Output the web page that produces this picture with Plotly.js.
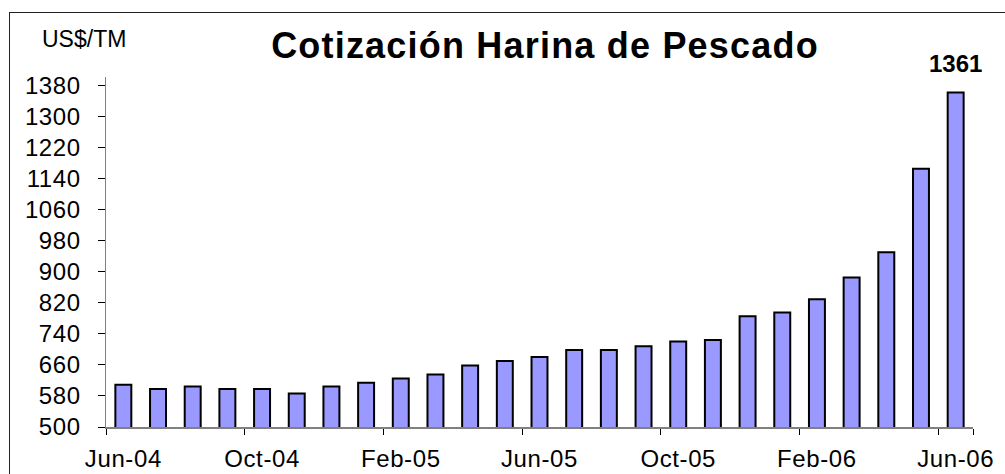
<!DOCTYPE html>
<html>
<head>
<meta charset="utf-8">
<script src="https://cdn.plot.ly/plotly-3.0.1.min.js"></script>
<style>
  html, body { margin: 0; padding: 0; background: #fff; overflow: hidden; }
  #wrap { position: relative; width: 1005px; height: 474px; }
  #chart { position: absolute; left: 0; top: 0; width: 1005px; height: 474px; }
  #frame { position: absolute; left: 9px; top: 12px; width: 1100px; height: 600px;
           border-left: 1.5px solid #222; border-top: 1.5px solid #222; pointer-events: none; }
  .gtitle { letter-spacing: 1.2px; }
  .xtick text, .ytick text { letter-spacing: 0.6px; }
</style>
</head>
<body>
<div id="wrap">
  <div id="chart"></div>
  <div id="frame"></div>
</div>
<script>
const months = ["Jun-04","Jul-04","Aug-04","Sep-04","Oct-04","Nov-04","Dec-04",
                "Jan-05","Feb-05","Mar-05","Apr-05","May-05","Jun-05","Jul-05","Aug-05","Sep-05","Oct-05","Nov-05","Dec-05",
                "Jan-06","Feb-06","Mar-06","Apr-06","May-06","Jun-06"];
const prices = [609, 598, 604, 598, 598, 586, 604, 614, 625, 635, 658, 670, 680,
                698, 698, 708, 720, 724, 785, 795, 829, 885, 950, 1165, 1361];
const labelMonths = ["Jun-04","Oct-04","Feb-05","Jun-05","Oct-05","Feb-06","Jun-06"];
const yTicks = [500,580,660,740,820,900,980,1060,1140,1220,1300,1380];
const titleText = "Cotización Harina de Pescado";
const unitText = "US$/TM";

const font = "Liberation Sans, Arial, sans-serif";
const lastIdx = prices.length - 1;

const trace = {
  type: "bar",
  x: months,
  y: prices,
  marker: { color: "#9999FF", line: { color: "#000000", width: 2 } },
  hoverinfo: "x+y"
};

const layout = {
  width: 1005, height: 474,
  margin: { l: 106, r: 32, t: 77, b: 47, pad: 0, autoexpand: false },
  paper_bgcolor: "rgba(0,0,0,0)",
  plot_bgcolor: "rgba(0,0,0,0)",
  bargap: 0.54,
  showlegend: false,
  font: { family: font, color: "#000" },
  title: {
    text: "<b>" + titleText + "</b>",
    font: { family: font, size: 36, color: "#000" },
    xref: "container", x: 0.5423, xanchor: "center",
    yref: "container", y: 0.905, yanchor: "middle",
    automargin: false
  },
  xaxis: {
    type: "category",
    automargin: false,
    range: [-0.5, months.length - 0.5],
    categoryorder: "array", categoryarray: months,
    tickmode: "array", tickvals: labelMonths, ticktext: labelMonths,
    tickson: "boundaries",
    tickangle: 0,
    ticks: "outside", ticklen: 6, tickcolor: "#000", tickwidth: 1,
    showline: true, linecolor: "#808080", linewidth: 1.5,
    showgrid: false, zeroline: false,
    tickfont: { family: font, size: 24, color: "#000" },
    ticklabelstandoff: 10,
    fixedrange: true
  },
  yaxis: {
    automargin: false,
    range: [500, 1401],
    tickmode: "array", tickvals: yTicks, ticktext: yTicks.map(String),
    ticks: "outside", ticklen: 7, tickcolor: "#000", tickwidth: 1,
    showline: true, linecolor: "#808080", linewidth: 1.5,
    showgrid: false, zeroline: false,
    tickfont: { family: font, size: 24, color: "#000" },
    ticklabelstandoff: 12,
    fixedrange: true
  },
  annotations: [
    {
      text: unitText, xref: "paper", yref: "paper",
      x: -0.0761, xanchor: "left", y: 1.109, yanchor: "middle",
      showarrow: false, font: { family: font, size: 23, color: "#000" }
    },
    {
      text: "<b>" + prices[lastIdx] + "</b>", xref: "x", yref: "y",
      x: months[lastIdx], y: prices[lastIdx], xanchor: "center", yanchor: "bottom",
      yshift: 14, showarrow: false, font: { family: font, size: 24, color: "#000" }
    }
  ]
};

Plotly.newPlot("chart", [trace], layout, { displayModeBar: false, staticPlot: true });
</script>
</body>
</html>
